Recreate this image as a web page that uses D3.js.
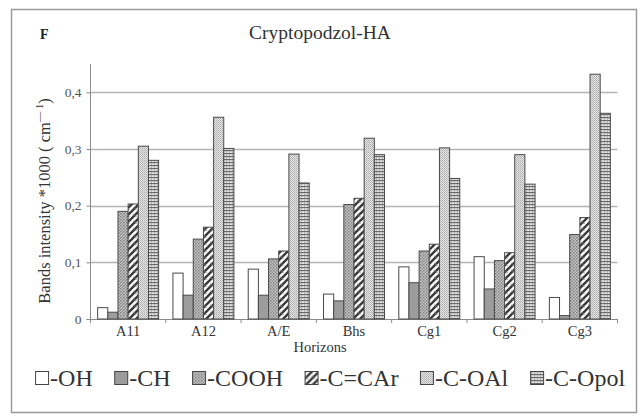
<!DOCTYPE html>
<html>
<head>
<meta charset="utf-8">
<script src="https://cdn.jsdelivr.net/npm/d3@7"></script>
<style>
  html, body { margin: 0; padding: 0; background: #fff; }
  svg { display: block; }
</style>
</head>
<body>
<svg id="chart" width="641" height="420"></svg>
<script>
// Horizons of the profile
const horizons = ["A11", "A12", "A/E", "Bhs", "Cg1", "Cg2", "Cg3"];

// Band groups (legend order)
const bands = ["-OH", "-CH", "-COOH", "-C=CAr", "-C-OAl", "-C-Opol"];

// Band intensities ×1000 per horizon
const ohValues    = [0.020, 0.081, 0.088, 0.044, 0.092, 0.110, 0.038];
const chValues    = [0.012, 0.042, 0.042, 0.032, 0.064, 0.053, 0.006];
const coohValues  = [0.190, 0.141, 0.106, 0.202, 0.120, 0.103, 0.149];
const ccarValues  = [0.203, 0.162, 0.120, 0.213, 0.132, 0.117, 0.179];
const coalValues  = [0.305, 0.356, 0.291, 0.319, 0.302, 0.290, 0.432];
const copolValues = [0.280, 0.301, 0.240, 0.290, 0.248, 0.238, 0.363];

const yTicks = [0, 0.1, 0.2, 0.3, 0.4];
const yTickLabels = ["0", "0,1", "0,2", "0,3", "0,4"];

const seriesValues = [ohValues, chValues, coohValues, ccarValues, coalValues, copolValues];
const rows = [];
horizons.forEach((h, i) => bands.forEach((b, j) => rows.push({ horizon: h, band: b, value: seriesValues[j][i] })));

const FONT = '"Liberation Serif", "Tinos", "Times New Roman", serif';
const TEXT = "#333";

const svg = d3.select("#chart");
const defs = svg.append("defs");

// Fill patterns for the six band groups
function pattern(id, w, h, build) {
  const p = defs.append("pattern").attr("id", id).attr("patternUnits", "userSpaceOnUse")
    .attr("width", w).attr("height", h);
  build(p);
}
pattern("p-cooh", 3, 3, p => {
  p.append("rect").attr("width", 3).attr("height", 3).attr("fill", "#c8c8c8");
  p.append("rect").attr("x", 0).attr("y", 0).attr("width", 1.5).attr("height", 1.5).attr("fill", "#7e7e7e");
  p.append("rect").attr("x", 1.5).attr("y", 1.5).attr("width", 1.5).attr("height", 1.5).attr("fill", "#8e8e8e");
});
pattern("p-ccar", 7, 7, p => {
  p.append("rect").attr("width", 7).attr("height", 7).attr("fill", "#fff");
  p.append("path").attr("d", "M-1,8 L8,-1 M-1,1 L1,-1 M6,8 L8,6").attr("stroke", "#3a3a3a").attr("stroke-width", 2.4);
  p.append("path").attr("d", "M0,3.5 L3.5,7").attr("stroke", "#777").attr("stroke-width", 1);
});
pattern("p-coal", 2, 2, p => {
  p.append("rect").attr("width", 2).attr("height", 2).attr("fill", "#e6e6e6");
  p.append("rect").attr("width", 1).attr("height", 1).attr("fill", "#aaa");
  p.append("rect").attr("x", 1).attr("y", 1).attr("width", 1).attr("height", 1).attr("fill", "#bdbdbd");
});
pattern("p-copol", 3, 3, p => {
  p.append("rect").attr("width", 3).attr("height", 3).attr("fill", "#e4e4e4");
  p.append("rect").attr("y", 0).attr("width", 3).attr("height", 1.2).attr("fill", "#6a6a6a");
  p.append("rect").attr("x", 1).attr("y", 1.2).attr("width", 1).attr("height", 1.8).attr("fill", "#b0b0b0");
});

const fills = d3.scaleOrdinal().domain(bands)
  .range(["#ffffff", "#9c9c9c", "url(#p-cooh)", "url(#p-ccar)", "url(#p-coal)", "url(#p-copol)"]);

// Outer frame
svg.append("rect").attr("x", 11.5).attr("y", 9.5).attr("width", 625).attr("height", 403)
  .attr("fill", "none").attr("stroke", "#9a9a9a").attr("stroke-width", 1.5);

// Panel letter and title
svg.append("text").attr("x", 40).attr("y", 39).attr("font-size", 14).attr("font-weight", "bold")
  .style("font-family", FONT).style("fill", "#222").text("F");
svg.append("text").attr("x", 320).attr("y", 39).attr("text-anchor", "middle").attr("font-size", 19.5)
  .style("font-family", FONT).style("fill", TEXT).text("Cryptopodzol-HA");

const plotLeft = 90.5, plotRight = 617.5, plotBottom = 319, plotTop = 64;

const y = d3.scaleLinear().domain([0, 0.45]).range([plotBottom, plotTop]);
const x = d3.scaleBand().domain(horizons).range([plotLeft, plotRight])
  .paddingInner(0.19).paddingOuter(0.095);
const xs = d3.scaleBand().domain(bands).range([0, x.bandwidth()]);

// Horizontal gridlines
svg.append("g").selectAll("line").data(yTicks.filter(d => d > 0)).join("line")
  .attr("x1", plotLeft).attr("x2", plotRight)
  .attr("y1", d => Math.round(y(d)) + 0.5).attr("y2", d => Math.round(y(d)) + 0.5)
  .attr("stroke", "#b4b4b4").attr("stroke-width", 1.3);

// Y axis
const yAxis = d3.axisLeft(y).tickValues(yTicks).tickFormat((d, i) => yTickLabels[i])
  .tickSize(4).tickPadding(5);
const gy = svg.append("g").attr("transform", `translate(${plotLeft},0)`).call(yAxis);
gy.select(".domain").attr("stroke", "#8a8a8a").attr("d", `M0,${plotBottom}V${plotTop}`);
gy.selectAll(".tick line").attr("stroke", "#8a8a8a");
gy.selectAll(".tick text").attr("font-size", 13.5).style("font-family", FONT).style("fill", "#555");

// X axis: tick marks sit between horizons
const step = x.step();
const boundaries = d3.range(horizons.length + 1).map(i => plotLeft + i * step);
const gx = svg.append("g");
gx.append("line").attr("x1", plotLeft - 4).attr("x2", plotRight)
  .attr("y1", plotBottom + 0.5).attr("y2", plotBottom + 0.5).attr("stroke", "#8a8a8a").attr("stroke-width", 1.2);
gx.selectAll("line.tk").data(boundaries).join("line").attr("class", "tk")
  .attr("x1", d => d).attr("x2", d => d).attr("y1", plotBottom).attr("y2", plotBottom + 4)
  .attr("stroke", "#8a8a8a");
gx.selectAll("text").data(horizons).join("text")
  .attr("x", d => x(d) + x.bandwidth() / 2).attr("y", 336)
  .attr("text-anchor", "middle").attr("font-size", 14.5)
  .style("font-family", FONT).style("fill", TEXT).text(d => d);

svg.append("text").attr("x", 320).attr("y", 352).attr("text-anchor", "middle")
  .attr("font-size", 14.5).style("font-family", FONT).style("fill", TEXT).text("Horizons");

// Y axis title
const yt = svg.append("text").attr("transform", "translate(50,201) rotate(-90)")
  .attr("text-anchor", "middle").attr("font-size", 16.5)
  .style("font-family", FONT).style("fill", TEXT);
yt.append("tspan").text("Bands intensity *1000 ( cm");
yt.append("tspan").attr("dy", -7).attr("font-size", 10.5).text("\u2014 1");
yt.append("tspan").attr("dy", 7).text(")");

// Bars
svg.append("g").selectAll("rect").data(rows).join("rect")
  .attr("x", d => x(d.horizon) + xs(d.band))
  .attr("y", d => y(d.value))
  .attr("width", xs.bandwidth())
  .attr("height", d => y(0) - y(d.value))
  .attr("fill", d => fills(d.band))
  .attr("stroke", "#4a4a4a").attr("stroke-width", 1);

// Legend
const legend = svg.append("g");
const items = legend.selectAll("g").data(bands).join("g");
items.append("rect").attr("x", 0.5).attr("y", -14.5).attr("width", 13).attr("height", 13)
  .attr("fill", d => fills(d)).attr("stroke", "#444").attr("stroke-width", 1);
items.append("text").attr("x", 15).attr("y", 0).attr("font-size", 24)
  .style("font-family", FONT).style("fill", TEXT).text(d => d);
const gap = 22;
const widths = [];
items.each(function () { widths.push(this.getBBox().width); });
const total = d3.sum(widths) + gap * (widths.length - 1);
let cursor = 330 - total / 2;
items.attr("transform", (d, i) => {
  const t = `translate(${cursor},386)`;
  cursor += widths[i] + gap;
  return t;
});
</script>
</body>
</html>
